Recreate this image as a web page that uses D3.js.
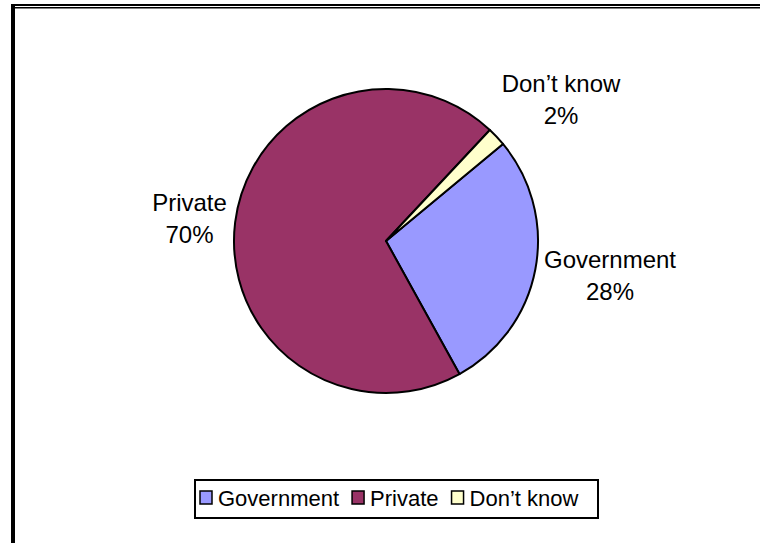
<!DOCTYPE html>
<html>
<head>
<meta charset="utf-8">
<script src="https://cdn.jsdelivr.net/npm/d3@7/dist/d3.min.js"></script>
<style>
  html, body { margin: 0; padding: 0; background: #fff; }
  svg text { font-family: Arial, "Liberation Sans", sans-serif; fill: #000; }
</style>
</head>
<body>
<svg id="chart" width="760" height="543"></svg>
<script>
// ---- data ----
const categories = ["Government", "Private", "Don\u2019t know"];
const values = [28, 70, 2];
const percentLabels = ["28%", "70%", "2%"];
const colors = ["#9999FF", "#993366", "#FFFFCC"];

// ---- layout ----
const W = 760, H = 543;
const cx = 386, cy = 241, R = 152;
const startAngle = 50.3 * Math.PI / 180;

const svg = d3.select("#chart");

// frame: double top rule and thick left rule
svg.append("rect").attr("x", 11).attr("y", 4).attr("width", W - 11).attr("height", 2).attr("fill", "#000");
svg.append("rect").attr("x", 11).attr("y", 7).attr("width", W - 11).attr("height", 1.5).attr("fill", "#000");
svg.append("rect").attr("x", 11).attr("y", 4).attr("width", 4).attr("height", H - 4).attr("fill", "#000");

// pie
const pie = d3.pie().sort(null).value(d => d)
  .startAngle(startAngle).endAngle(startAngle + 2 * Math.PI);
const arcs = pie(values);
const arc = d3.arc().innerRadius(0).outerRadius(R);

const g = svg.append("g").attr("transform", `translate(${cx},${cy})`);
g.selectAll("path.slice").data(arcs).enter().append("path")
  .attr("class", "slice")
  .attr("d", arc)
  .attr("fill", (d, i) => colors[i])
  .attr("stroke", "#000")
  .attr("stroke-width", 2)
  .attr("stroke-linejoin", "round");

// data labels (positions of label centres relative to pie centre, by slice)
const labelPos = [
  { x: 610 - cx, y: 268 - cy },
  { x: 189.5 - cx, y: 211 - cy },
  { x: 561 - cx, y: 92 - cy }
];
const lineGap = 31.5;
const lab = g.selectAll("g.lab").data(arcs).enter().append("g")
  .attr("class", "lab")
  .attr("transform", (d, i) => `translate(${labelPos[i].x},${labelPos[i].y})`);
lab.append("text").attr("text-anchor", "middle").attr("font-size", 24)
  .text((d, i) => categories[i]);
lab.append("text").attr("text-anchor", "middle").attr("font-size", 24)
  .attr("y", lineGap)
  .text((d, i) => percentLabels[i]);

// legend
const legX = 195, legY = 480, legW = 403, legH = 38;
svg.append("rect").attr("x", legX).attr("y", legY).attr("width", legW).attr("height", legH)
  .attr("fill", "#fff").attr("stroke", "#000").attr("stroke-width", 2);

const leg = svg.append("g");
let xPos = legX + 5;
categories.forEach((c, i) => {
  const item = leg.append("g").attr("transform", `translate(${xPos},0)`);
  item.append("rect").attr("x", 0).attr("y", 491).attr("width", 12).attr("height", 13)
    .attr("fill", colors[i]).attr("stroke", "#000").attr("stroke-width", 1.5);
  const t = item.append("text").attr("x", 18).attr("y", 506).attr("font-size", 22).text(c);
  const w = t.node().getComputedTextLength();
  xPos += 18 + w + 13;
});
</script>
</body>
</html>
